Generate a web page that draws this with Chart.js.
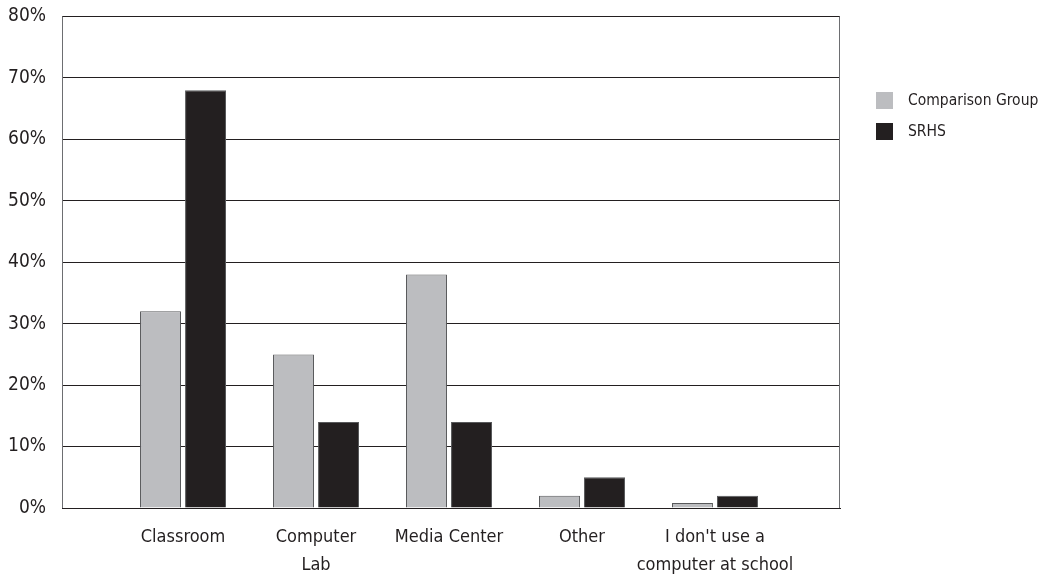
<!DOCTYPE html>
<html>
<head>
<meta charset="utf-8">
<script src="https://cdn.jsdelivr.net/npm/chart.js@4"></script>
<style>
  html, body { margin: 0; padding: 0; background: #fff; overflow: hidden; }
  #wrap { position: relative; width: 1045px; height: 576px; overflow: hidden; }
  #chart { position: absolute; left: 0; top: -11px; }
  .legend { position: absolute; left: 876px; font-family: "Liberation Sans Narrow", "DejaVu Sans Condensed", sans-serif; font-size: 15.5px; color: #231f20; }
  .legend span.box { position: absolute; left: 0; top: 0; width: 17px; height: 17px; }
  .legend span.txt { position: absolute; left: 32px; top: -1px; white-space: nowrap; }
</style>
</head>
<body>
<div id="wrap">
  <canvas id="chart" width="1045" height="587"></canvas>
  <div class="legend" style="top:92px"><span class="box" style="background:#bcbdc0"></span><span class="txt">Comparison Group</span></div>
  <div class="legend" style="top:123px"><span class="box" style="background:#231f20"></span><span class="txt">SRHS</span></div>
</div>
<script>
const categories = ['Classroom', ['Computer', 'Lab'], 'Media Center', 'Other', ["I don't use a", 'computer at school']]
const comparison = [32, 25, 38, 2, 0.8]
const srhs = [68, 14, 14, 5, 2]
const yTicks = [0, 10, 20, 30, 40, 50, 60, 70, 80]

const FONT = '"Liberation Sans Narrow", "DejaVu Sans Condensed", sans-serif'

// draws the box round the plot area
const frame = {
  id: 'frame',
  afterDraw(chart) {
    const {ctx, chartArea: a} = chart
    ctx.save()
    ctx.strokeStyle = '#6d6e71'
    ctx.lineWidth = 1
    ctx.beginPath()
    ctx.moveTo(a.left + 0.5, a.bottom)
    ctx.lineTo(a.left + 0.5, a.top)
    ctx.moveTo(a.right - 0.5, a.top)
    ctx.lineTo(a.right - 0.5, a.bottom)
    ctx.stroke()
    ctx.restore()
  }
}

const toPoints = (vals) => vals.map((v, i) => ({x: i, y: v}))

new Chart(document.getElementById('chart').getContext('2d'), {
  type: 'bar',
  data: {
    datasets: [{
      label: 'Comparison Group',
      data: toPoints(comparison),
      backgroundColor: '#bcbdc0',
      borderColor: '#58595b',
      borderWidth: 1
    }, {
      label: 'SRHS',
      data: toPoints(srhs),
      backgroundColor: '#231f20',
      borderColor: '#58595b',
      borderWidth: 1
    }]
  },
  options: {
    responsive: false,
    animation: false,
    categoryPercentage: 0.677,
    barPercentage: 0.91,
    layout: {padding: {top: 5, right: 205, left: 0, bottom: 0}},
    plugins: {legend: {display: false}, tooltip: {enabled: false}},
    scales: {
      x: {
        type: 'linear',
        offset: false,
        min: -0.91,
        max: 4.94,
        afterFit: (s) => { s.height = 68 },
        grid: {display: false},
        border: {display: true, color: '#231f20', width: 1},
        ticks: {
          stepSize: 1,
          includeBounds: false,
          autoSkip: false,
          maxRotation: 0,
          padding: 7,
          color: '#231f20',
          font: {family: FONT, size: 18, lineHeight: 1.55},
          callback: (v) => Number.isInteger(v) && categories[v] ? categories[v] : ''
        }
      },
      y: {
        min: 0,
        max: 80,
        afterFit: (s) => { s.width = 62 },
        afterBuildTicks: (s) => { s.ticks = yTicks.map(v => ({value: v})) },
        grid: {color: '#231f20', lineWidth: 1, drawTicks: false},
        border: {display: false},
        ticks: {
          padding: 16,
          color: '#231f20',
          font: {family: FONT, size: 19},
          callback: (v) => v + '%'
        }
      }
    }
  },
  plugins: [frame]
})
</script>
</body>
</html>
